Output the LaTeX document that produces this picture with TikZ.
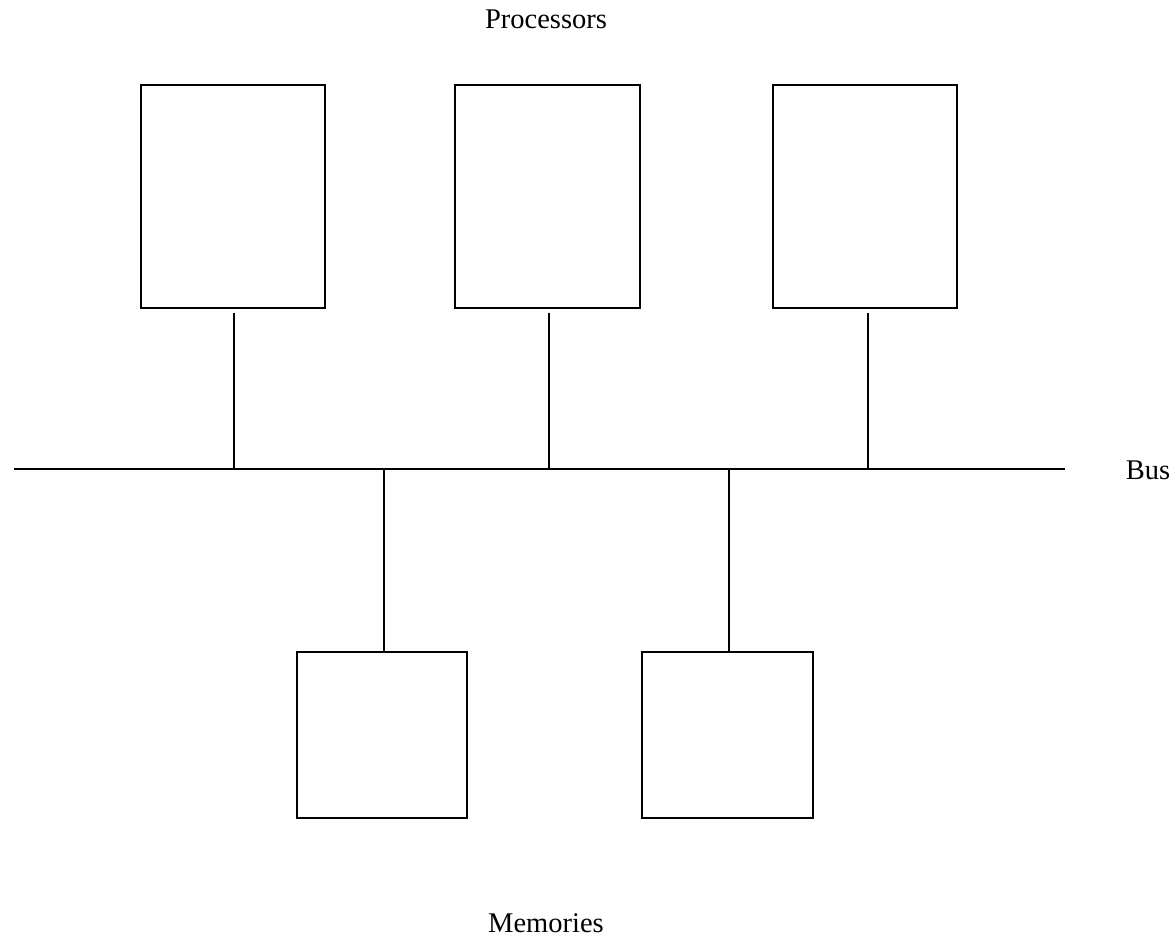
\documentclass[tikz,border=0pt]{standalone}
\usepackage{fontspec}
\setmainfont{Liberation Serif}
\usetikzlibrary{calc}
\begin{document}
\begin{tikzpicture}[x=1pt,y=-1pt,
  unit/.style={draw,line width=1.3pt,inner sep=0pt,minimum width=#1},
  wire/.style={line width=1.3pt},
  lbl/.style={font=\fontsize{28.5}{34}\selectfont,inner sep=0pt}]
\useasboundingbox (0,0) rectangle (1176,938);
% processors
\node[unit=184pt,minimum height=223pt] (p1) at (233,196.5) {};
\node[unit=185pt,minimum height=223pt] (p2) at (547.5,196.5) {};
\node[unit=184pt,minimum height=223pt] (p3) at (865,196.5) {};
% memories
\node[unit=170pt,minimum height=166pt] (m1) at (382,735) {};
\node[unit=171pt,minimum height=166pt] (m2) at (727.5,735) {};
% bus
\coordinate (busL) at (14,469);
\coordinate (busR) at (1065,469);
\draw[wire] (busL) -- (busR);
% taps from the bus
\coordinate (b1) at (234,469);
\coordinate (b2) at (549,469);
\coordinate (b3) at (868,469);
\coordinate (b4) at (384,469);
\coordinate (b5) at (729,469);
\draw[wire] ($(p1.south)+(1,4)$) -- (b1);
\draw[wire] ($(p2.south)+(1.5,4)$) -- (b2);
\draw[wire] ($(p3.south)+(3,4)$) -- (b3);
\draw[wire] (b4) -- ($(m1.north)+(2,0)$);
\draw[wire] (b5) -- ($(m2.north)+(1.5,0)$);
% labels
\node[lbl] (tp) at (546,19) {Processors};
\node[lbl] (tb) at (1148,470) {Bus};
\node[lbl] (tm) at (546,923) {Memories};
\end{tikzpicture}
\end{document}
